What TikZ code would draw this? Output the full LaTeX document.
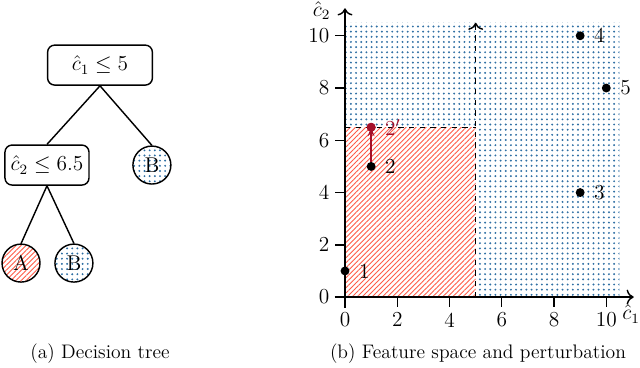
\documentclass[tikz,border=0pt]{standalone}
\usepackage{tikz}
\usetikzlibrary{arrows.meta, positioning, patterns, patterns.meta}

\definecolor{hatchred}{HTML}{FF5A46}
\definecolor{dotblue}{HTML}{2F6FA3}
\definecolor{pertred}{HTML}{A5102A}

\tikzset{
    hatchfill/.style={pattern={Lines[angle=45, distance=2pt, line width=0.5pt]}, pattern color=hatchred},
    dotfill/.style={pattern={Dots[distance=2.9pt, radius=0.6pt]}, pattern color=dotblue}
}

\begin{document}
\begin{tikzpicture}[
    font=\large,
    split/.style={
        draw,
        thick,
        rounded corners=4pt,
        align=center,
        minimum height=0.79cm,
        inner sep=3pt
    },
    leafA/.style={
        draw,
        thick,
        circle,
        minimum size=0.75cm,
        inner sep=0pt,
        hatchfill
    },
    leafB/.style={
        draw,
        thick,
        circle,
        minimum size=0.75cm,
        inner sep=0pt,
        dotfill
    },
    edge/.style={thick},
    pt/.style={circle, fill=black, inner sep=0pt, minimum size=5pt},
    ptlabel/.style={right=5pt, inner sep=0pt},
    tick/.style={thick},
    axis/.style={thick, -{To[length=4pt]}},
    caption/.style={font=\fontsize{11}{13}\selectfont}
]
    \useasboundingbox (0,0) rectangle (12.64,7.25);

    % (a) decision tree
    \node[split, minimum width=2.07cm] (root) at (1.975,5.964) {$\hat{c}_1 \leq 5$};
    \node[split, minimum width=1.66cm] (inner) at (0.928,3.99) {$\hat{c}_2 \leq 6.5$};
    \node[leafB] (leafright) at (3.0,3.99) {B};
    \node[leafA] (leafa) at (0.415,2.054) {A};
    \node[leafB] (leafb) at (1.46,2.054) {B};

    \draw[edge] (root.south) -- (inner.north);
    \draw[edge] (root.south) -- (leafright.north);
    \draw[edge] (inner.south) -- (leafa.north);
    \draw[edge] (inner.south) -- (leafb.north);

    \node[caption] (capa) at (1.975,0.257) {(a) Decision tree};

    % (b) feature space
    \begin{scope}[shift={(6.814,1.383)}, x=0.516cm, y=0.516cm]
        \fill[dotfill] (0,0) rectangle (10.5,10.5);
        \fill[white] (0,0) rectangle (5,6.5);
        \fill[hatchfill] (0,0) rectangle (5,6.5);
        \draw[thick, dashed] (0,6.5) -- (5,6.5);
        \draw[thick, dashed, -{To[length=4pt]}] (5,0) -- (5,10.5);

        % axes
        \draw[axis] (-0.4,0) -- (11.05,0);
        \draw[axis] (0,-0.4) -- (0,11.05);
        \foreach \v in {0,2,...,10} {
            \draw[tick] (\v,0) -- (\v,-0.38);
            \node[anchor=north, inner sep=2pt] at (\v,-0.45) {\v};
            \draw[tick] (0,\v) -- (-0.38,\v);
            \node[anchor=east, inner sep=2pt] at (-0.45,\v) {\v};
        }
        \node (xlab) at (10.95,-0.65) {$\hat{c}_1$};
        \node (ylab) at (-0.9,10.95) {$\hat{c}_2$};

        % samples
        \node[pt, label={[ptlabel]right:1}] (p1) at (0,1) {};
        \node[pt, label={[ptlabel]right:2}] (p2) at (1,5) {};
        \node[pt, label={[ptlabel]right:3}] (p3) at (9,4) {};
        \node[pt, label={[ptlabel]right:4}] (p4) at (9,10) {};
        \node[pt, label={[ptlabel]right:5}] (p5) at (10,8) {};
        \node[pt, fill=pertred, label={[ptlabel, text=pertred]right:$2'$}] (p2b) at (1,6.5) {};
        \draw[thick, pertred, -{Stealth[length=5pt]}] (p2) -- (p2b.center);
        \node[pt, fill=pertred] at (p2b) {};
    \end{scope}

    \node[caption] (capb) at (9.44,0.257) {(b) Feature space and perturbation};
\end{tikzpicture}
\end{document}
